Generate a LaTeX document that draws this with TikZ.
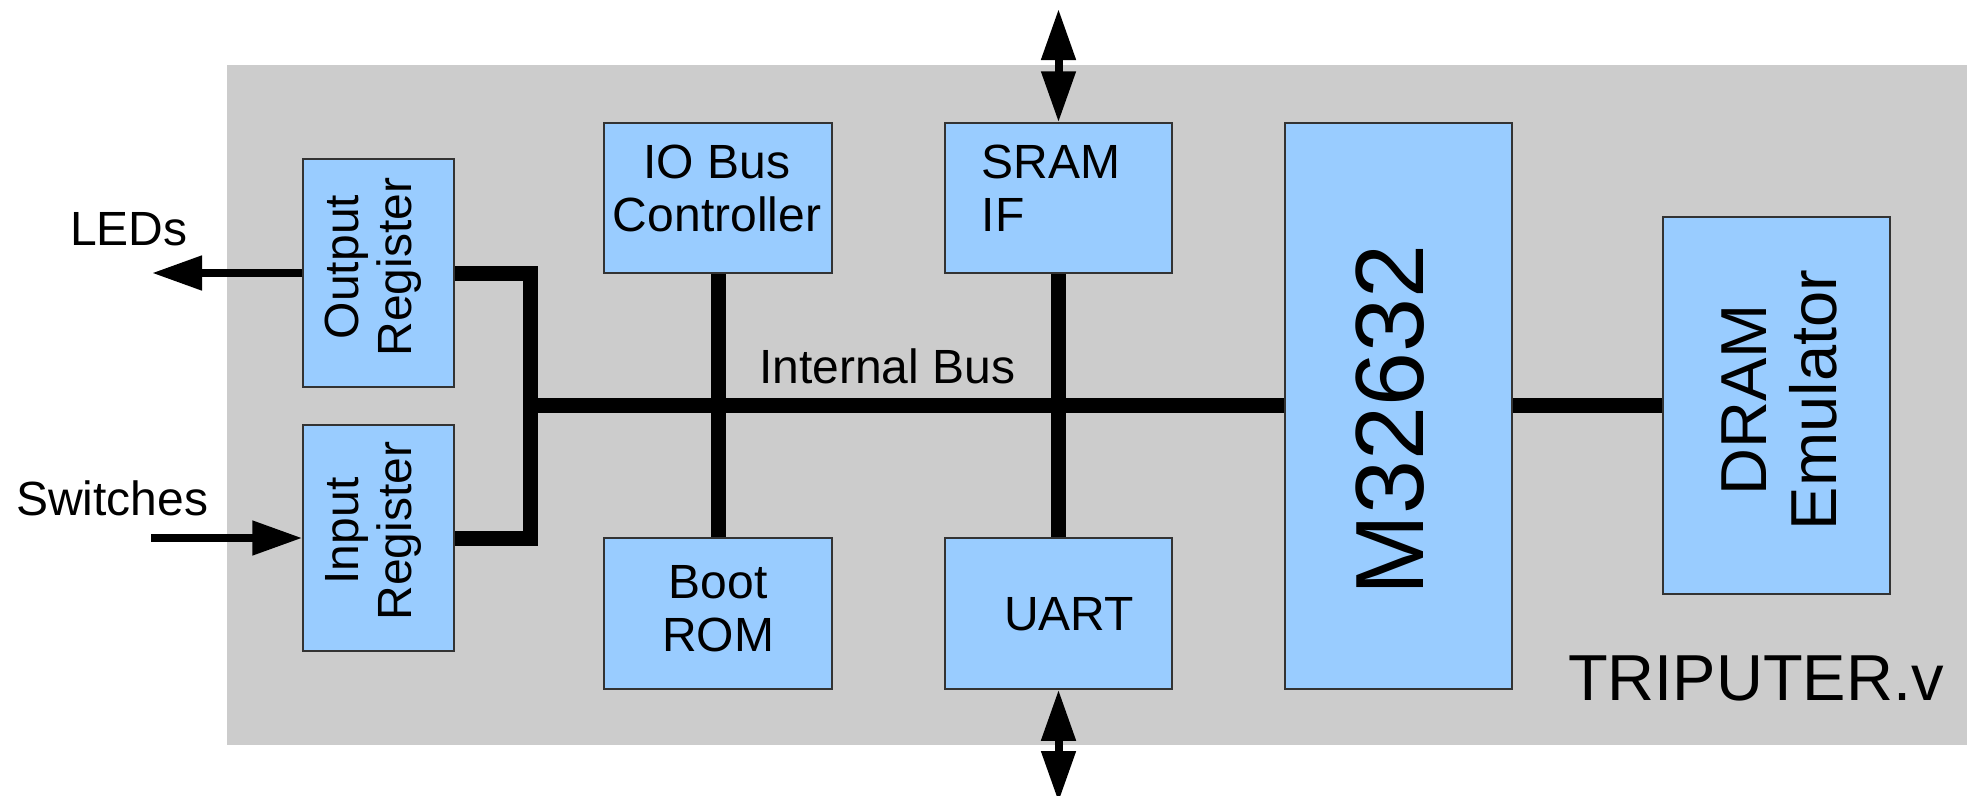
\documentclass[tikz,border=0pt]{standalone}
\usepackage{fontspec}
\setmainfont{Liberation Sans}
\usetikzlibrary{arrows.meta}
\definecolor{bggray}{HTML}{CCCCCC}
\definecolor{boxblue}{HTML}{99CCFF}
\begin{document}
\begin{tikzpicture}[x=1pt,y=-1pt,
  blk/.style={draw=black!80, line width=1.5pt, fill=boxblue, inner sep=0pt, rectangle},
  txt/.style={inner sep=0pt, font=\fontsize{48}{53}\selectfont, align=center},
  bus/.style={line width=15pt, line join=miter, line cap=butt},
  sig/.style={line width=8pt, -{Triangle[length=50pt,width=33pt]}},
  bidir/.style={line width=8pt, {Triangle[length=51pt,width=33pt]}-{Triangle[length=51pt,width=33pt]}}]

\clip (0,0) rectangle (1967,795);
\useasboundingbox (0,0) rectangle (1967,795);
\fill[bggray] (227,65) rectangle (1967,745);

% blocks
\node[blk, minimum width=151pt, minimum height=228pt] (outreg) at (378.5,273) {};
\node[blk, minimum width=151pt, minimum height=226pt] (inreg) at (378.5,538) {};
\node[blk, minimum width=228pt, minimum height=150pt] (iobus) at (718,198) {};
\node[blk, minimum width=227pt, minimum height=150pt] (sram) at (1058.5,198) {};
\node[blk, minimum width=228pt, minimum height=151pt] (bootrom) at (718,613.5) {};
\node[blk, minimum width=227pt, minimum height=151pt] (uart) at (1058.5,613.5) {};
\node[blk, minimum width=227pt, minimum height=566pt] (cpu) at (1398.5,406) {};
\node[blk, minimum width=227pt, minimum height=377pt] (dram) at (1776.5,405.5) {};

% block labels
\node[txt, rotate=90, anchor=north] (outregt) at (325,267) {Output\\Register};
\node[txt, rotate=90, anchor=north] (inregt) at (325,531) {Input\\Register};
\node[txt, anchor=north] (iobust) at (717,145) {IO Bus\\Controller};
\node[txt, anchor=north west, align=left] (sramt) at (981.5,145) {SRAM\\IF};
\node[txt, anchor=north] (bootromt) at (718,565) {Boot\\ROM};
\node[txt, anchor=north] (uartt) at (1069,597) {UART};
\node[inner sep=0pt, font=\fontsize{97}{100}\selectfont, rotate=90, anchor=north] (cput) at (1356,420) {M32632};
\node[inner sep=0pt, font=\fontsize{65}{70}\selectfont, align=center, rotate=90, anchor=north] (dramt) at (1722,400) {DRAM\\Emulator};

% free labels
\node[txt, anchor=base west] (ledst) at (70,245) {LEDs};
\node[txt, anchor=base west] (swt) at (16,515) {Switches};
\node[txt, anchor=base west] (ibust) at (759,383) {Internal Bus};
\node[inner sep=0pt, font=\fontsize{65}{70}\selectfont, anchor=base west] (topt) at (1568,700) {TRIPUTER.v};

% buses
\coordinate (jm) at (530,405.5);
\draw[bus] (outreg.east) -| (jm) |- (inreg.east);
\draw[bus] (jm) -- (jm -| cpu.west);
\draw[bus] (iobus.south) -- (bootrom.north);
\draw[bus] (sram.south) -- (uart.north);
\draw[bus] (cpu.east |- dram.west) -- (dram.west);

% external signals
\coordinate (ledtip) at (152,273);
\draw[sig] (outreg.west) -- (ledtip);
\coordinate (swstart) at (151,538);
\draw[sig] (swstart) -- (inreg.west);
\coordinate (topend) at (1058.5,9);
\draw[bidir] (topend) -- (sram.north);
\coordinate (botend) at (1058.5,802);
\draw[bidir] (uart.south) -- (botend);
\end{tikzpicture}
\end{document}
